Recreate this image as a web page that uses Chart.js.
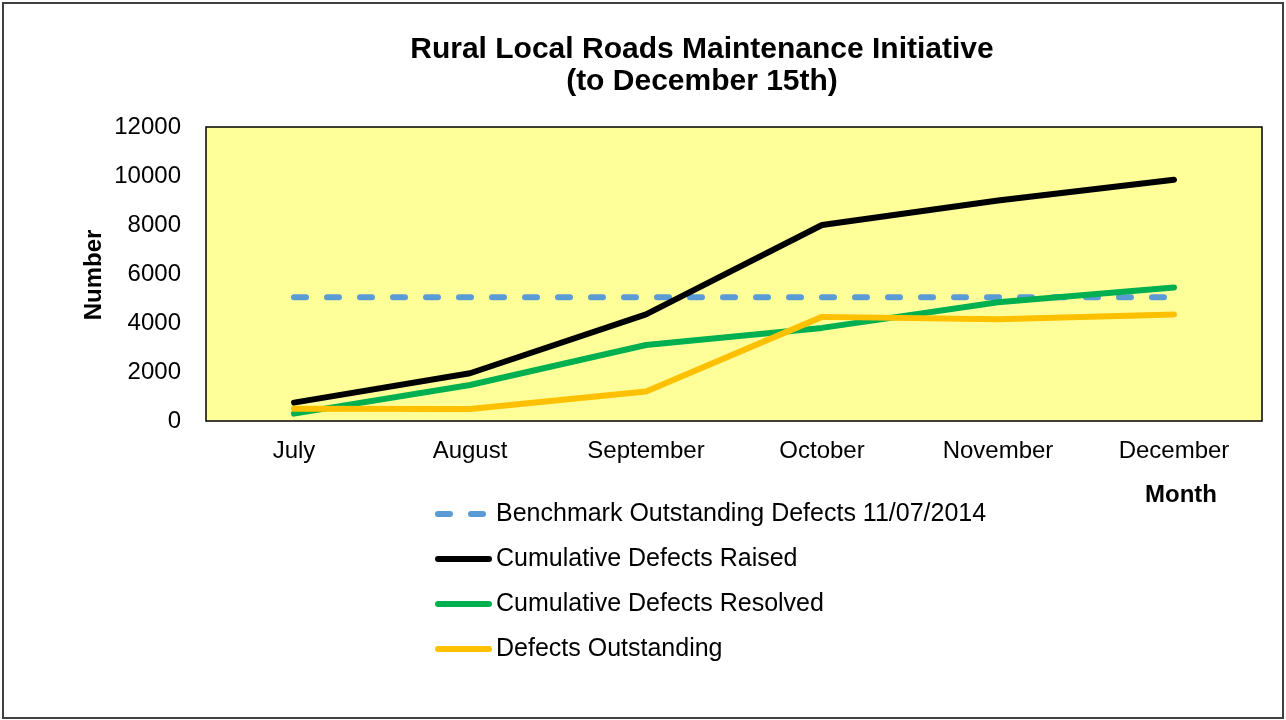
<!DOCTYPE html>
<html>
<head>
<meta charset="utf-8">
<script src="https://cdn.jsdelivr.net/npm/chart.js@4/dist/chart.umd.min.js"></script>
<style>
  html, body { margin: 0; padding: 0; background: #ffffff; }
  #wrap { position: relative; width: 1286px; height: 720px; }
  canvas { display: block; }
</style>
</head>
<body>
<div id="wrap"><canvas id="c" width="1286" height="720"></canvas></div>
<script>
const months = ["July", "August", "September", "October", "November", "December"];
const benchmarkOutstanding = [5050, 5050, 5050, 5050, 5050, 5050];
const cumulativeRaised = [750, 1950, 4350, 8000, 9000, 9850];
const cumulativeResolved = [300, 1470, 3100, 3800, 4850, 5450];
const defectsOutstanding = [500, 490, 1200, 4250, 4150, 4350];
const seriesNames = [
  "Benchmark Outstanding Defects 11/07/2014",
  "Cumulative Defects Raised",
  "Cumulative Defects Resolved",
  "Defects Outstanding"
];
const yTicks = [0, 2000, 4000, 6000, 8000, 10000, 12000];
const titleLines = ["Rural Local Roads Maintenance Initiative", "(to December 15th)"];
const yTitle = "Number";
const xTitle = "Month";

const FONT = "'Liberation Sans', Arial, sans-serif";

const decorPlugin = {
  id: 'decor',
  beforeDraw(chart) {
    const ctx = chart.ctx;
    const a = chart.chartArea;
    ctx.save();
    ctx.fillStyle = '#ffffff';
    ctx.fillRect(0, 0, chart.width, chart.height);
    ctx.strokeStyle = '#404040';
    ctx.lineWidth = 2;
    ctx.strokeRect(3, 3, 1280, 715);
    ctx.fillStyle = '#FFFF99';
    ctx.fillRect(a.left, a.top, a.right - a.left, a.bottom - a.top);
    ctx.restore();
  },
  beforeDatasetsDraw(chart) {
    const ctx = chart.ctx;
    const a = chart.chartArea;
    ctx.save();
    ctx.strokeStyle = '#000000';
    ctx.lineWidth = 1.5;
    ctx.strokeRect(a.left, a.top, a.right - a.left, a.bottom - a.top);
    ctx.restore();
  },
  afterDraw(chart) {
    const ctx = chart.ctx;
    ctx.save();
    ctx.fillStyle = '#000000';
    ctx.font = "bold 30px " + FONT;
    ctx.textAlign = 'center';
    ctx.textBaseline = 'alphabetic';
    ctx.fillText(titleLines[0], 702, 58);
    ctx.fillText(titleLines[1], 702, 90);
    ctx.font = "bold 24px " + FONT;
    ctx.save();
    ctx.translate(94, 275);
    ctx.rotate(-Math.PI / 2);
    ctx.textAlign = 'center';
    ctx.textBaseline = 'middle';
    ctx.fillText(yTitle, 0, 0);
    ctx.restore();
    ctx.textAlign = 'left';
    ctx.textBaseline = 'middle';
    ctx.fillText(xTitle, 1145, 495);
    const ds = chart.data.datasets;
    for (let i = 0; i < ds.length; i++) {
      const y = 514 + i * 45;
      ctx.save();
      ctx.strokeStyle = ds[i].borderColor;
      ctx.lineWidth = 6;
      ctx.lineCap = 'round';
      ctx.setLineDash(ds[i].borderDash || []);
      ctx.beginPath();
      ctx.moveTo(438, y);
      ctx.lineTo(489, y);
      ctx.stroke();
      ctx.restore();
      ctx.font = "25px " + FONT;
      ctx.fillStyle = '#000000';
      ctx.textAlign = 'left';
      ctx.textBaseline = 'middle';
      ctx.fillText(seriesNames[i], 496, y);
    }
    ctx.restore();
  }
};

const common = { fill: false, pointRadius: 0, pointHoverRadius: 0, tension: 0, borderCapStyle: 'round', borderJoinStyle: 'round' };

new Chart(document.getElementById('c'), {
  type: 'line',
  data: {
    labels: months,
    datasets: [
      Object.assign({ label: seriesNames[0], data: benchmarkOutstanding, borderColor: '#5B9BD5', borderWidth: 6, borderDash: [12, 21], order: 4 }, common),
      Object.assign({ label: seriesNames[1], data: cumulativeRaised, borderColor: '#000000', borderWidth: 6, order: 3 }, common),
      Object.assign({ label: seriesNames[2], data: cumulativeResolved, borderColor: '#00B050', borderWidth: 6, order: 2 }, common),
      Object.assign({ label: seriesNames[3], data: defectsOutstanding, borderColor: '#FFC000', borderWidth: 6, order: 1 }, common)
    ]
  },
  options: {
    responsive: false,
    animation: false,
    devicePixelRatio: 1,
    layout: { padding: { left: 0, top: 127, right: 24, bottom: 239 } },
    plugins: {
      legend: { display: false },
      title: { display: false },
      tooltip: { enabled: false }
    },
    scales: {
      x: {
        type: 'category',
        offset: true,
        grid: { display: false, drawTicks: false },
        border: { display: false },
        ticks: { color: '#000000', font: { family: FONT, size: 24 }, padding: 16, maxRotation: 0, autoSkip: false },
        afterFit(scale) { scale.height = 60; }
      },
      y: {
        min: 0,
        max: 12000,
        afterBuildTicks(scale) { scale.ticks = yTicks.map(v => ({ value: v })); },
        grid: { display: false, drawTicks: false },
        border: { display: false },
        ticks: { color: '#000000', font: { family: FONT, size: 24 }, padding: 25, callback: (v) => String(v) },
        afterFit(scale) { scale.width = 206; }
      }
    }
  },
  plugins: [decorPlugin]
});
</script>
</body>
</html>
